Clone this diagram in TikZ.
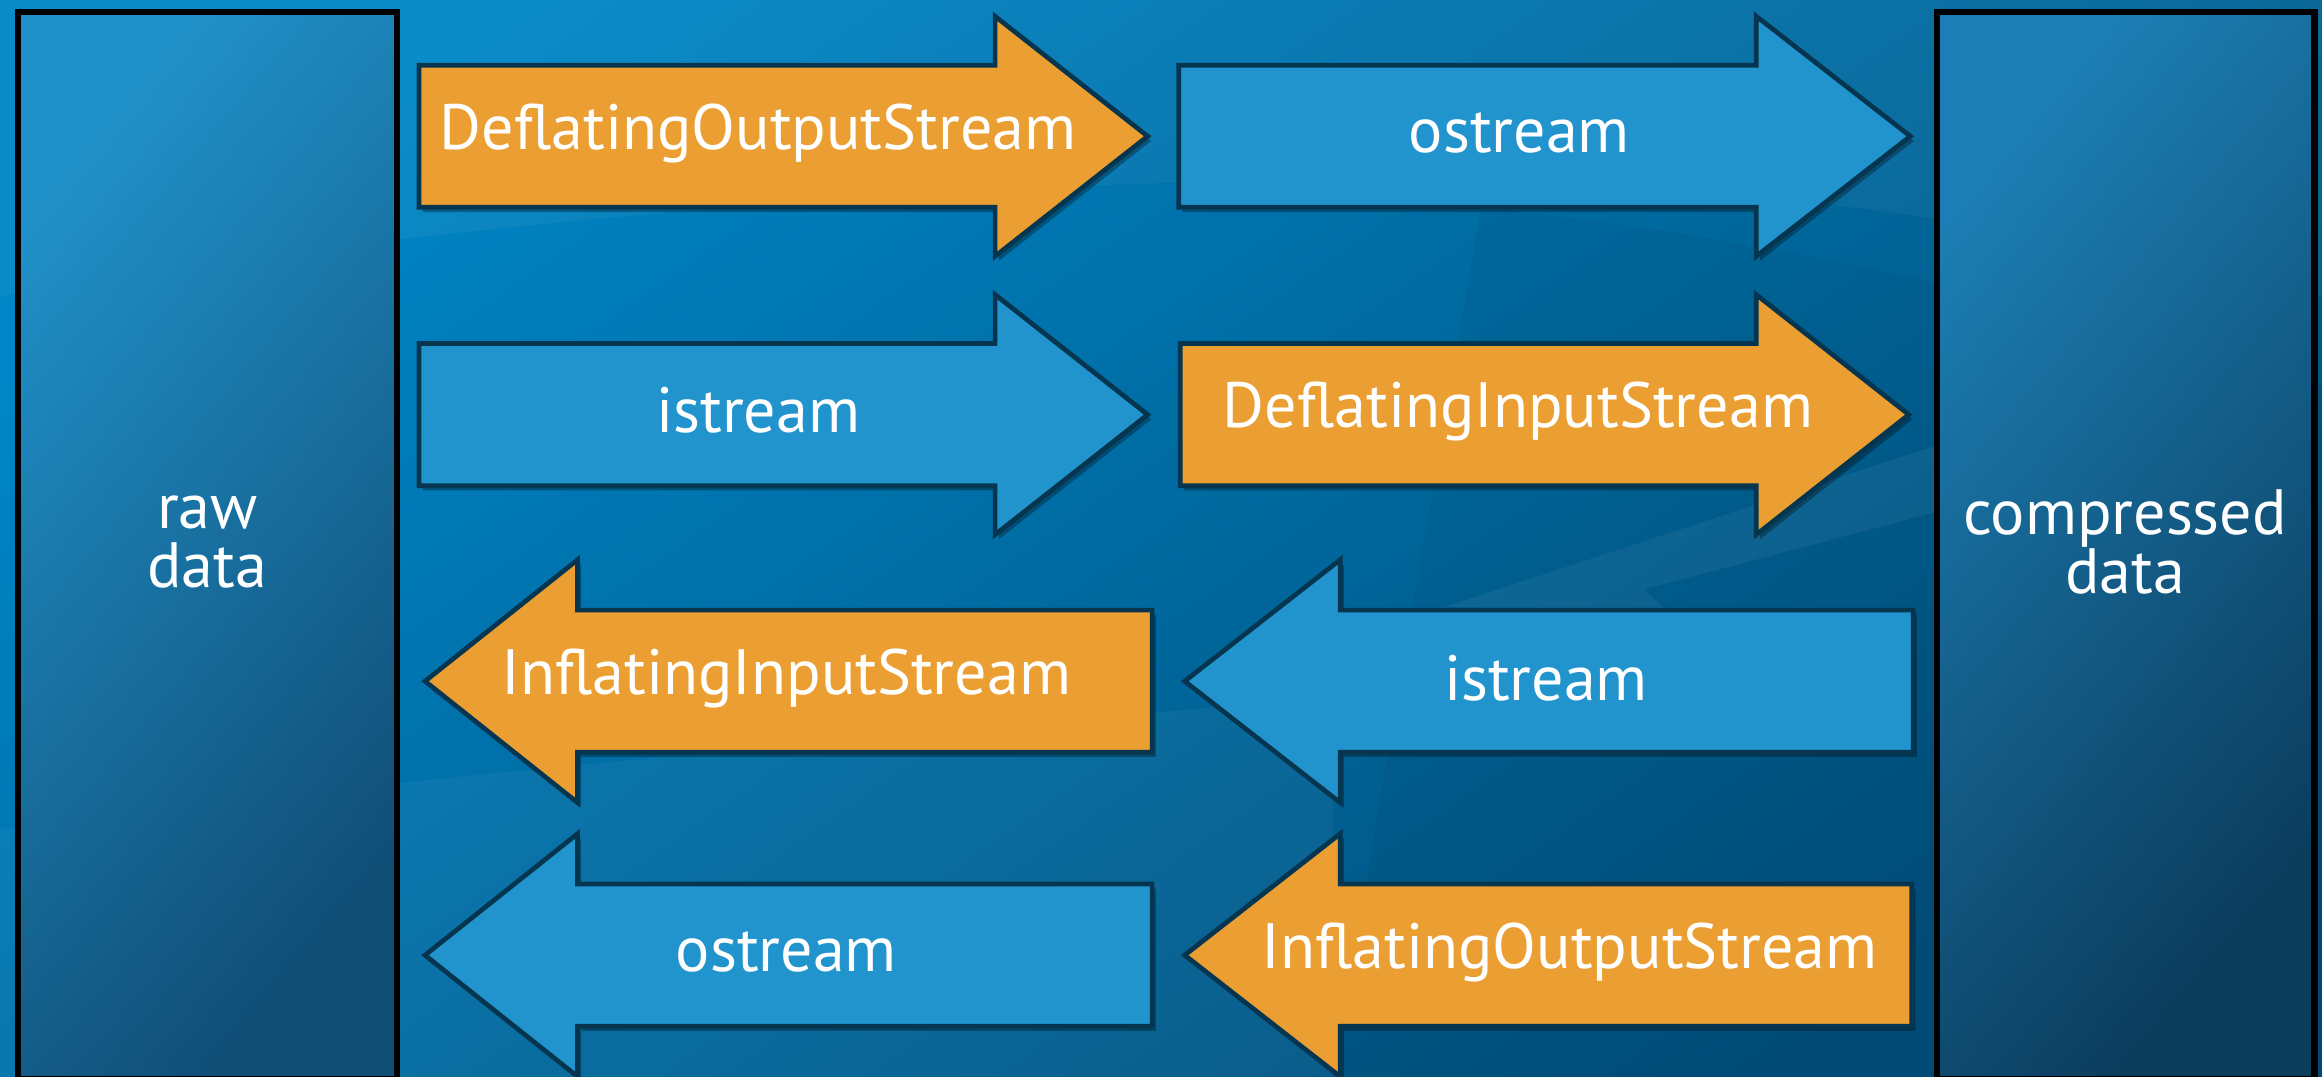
\documentclass[tikz,border=0pt]{standalone}
\usepackage{fontspec}
\setmainfont{PT Sans}
\usetikzlibrary{shadows}
\definecolor{orng}{RGB}{235,158,49}
\definecolor{lblue}{RGB}{33,148,206}
\definecolor{edge}{RGB}{6,53,79}
\definecolor{bgA}{RGB}{0,134,198}
\definecolor{bgB}{RGB}{0,78,122}
\definecolor{barLA}{RGB}{32,144,200}
\definecolor{barLB}{RGB}{16,78,118}
\definecolor{barRA}{RGB}{28,126,180}
\definecolor{barRB}{RGB}{11,60,92}
\tikzset{
  arrowshape/.style={draw=edge, line width=0.9pt, line join=miter,
    drop shadow={shadow xshift=0.7pt, shadow yshift=-0.9pt, opacity=0.3, fill=black}},
  lbl/.style={text=white, font=\fontsize{12.3pt}{12.3pt}\selectfont, inner sep=0pt},
  barlbl/.style={text=white, font=\fontsize{12.3pt}{11.2pt}\selectfont, align=center, inner sep=0pt},
  databar/.style={draw=black, line width=1.2pt, shading=axis, shading angle=50}
}
% #1 left x, #2 head base x, #3 tip x, #4 centre y, #5 fill
\newcommand{\ArrR}[5]{%
  \path[arrowshape, fill=#5] (#1,#4-48) -- (#2,#4-48) -- (#2,#4-81) -- (#3,#4)
    -- (#2,#4+81) -- (#2,#4+48) -- (#1,#4+48) -- cycle;}
% #1 tip x, #2 head base x, #3 right x, #4 centre y, #5 fill
\newcommand{\ArrL}[5]{%
  \path[arrowshape, fill=#5] (#3,#4-48) -- (#2,#4-48) -- (#2,#4-82) -- (#1,#4)
    -- (#2,#4+82) -- (#2,#4+48) -- (#3,#4+48) -- cycle;}
\begin{document}
\begin{tikzpicture}[x=0.01cm, y=-0.01cm]
\useasboundingbox (0,0) rectangle (1568,727);
% background
\shade[shading=axis, top color=bgA, bottom color=bgB, shading angle=35] (0,0) rectangle (1568,727);
\fill[white, opacity=0.045] (0,0) -- (0,200) .. controls (350,140) and (800,110) .. (1100,125) .. controls (1300,140) and (1450,170) .. (1568,200) -- (1568,0) -- cycle;
\fill[black, opacity=0.04] (1000,140) .. controls (1200,160) and (1400,210) .. (1568,260) -- (1568,727) -- (900,727) -- cycle;
\fill[white, opacity=0.04] (0,560) .. controls (300,520) and (700,490) .. (900,470) -- (900,727) -- (0,727) -- cycle;
\fill[white, opacity=0.05] (975,410) -- (1310,300) -- (1310,345) -- (1110,398) -- (1125,412) -- cycle;

% data bars
\path[databar, top color=barLA, bottom color=barLB, shading angle=50] (12,8) rectangle (268,729);
\path[databar, top color=barRA, bottom color=barRB, shading angle=50] (1308,8) rectangle (1563,729);
\node[barlbl] (raw) at (140,366) {raw\\data};
\node[barlbl] (comp) at (1435,366) {compressed\\data};

% arrows
\ArrR{283}{672}{775}{92}{orng}
\ArrR{796}{1186}{1290}{92}{lblue}
\ArrR{283}{672}{775}{280}{lblue}
\ArrR{797}{1186}{1289}{280}{orng}
\ArrL{287}{390}{778}{460}{orng}
\ArrL{800}{905}{1292}{460}{lblue}
\ArrL{287}{390}{778}{645}{lblue}
\ArrL{800}{905}{1291}{645}{orng}

\node[lbl] (dos) at (512,90) {DeflatingOutputStream};
\node[lbl] (os1) at (1026,90) {ostream};
\node[lbl] (is1) at (512,277) {istream};
\node[lbl] (dis) at (1025,278) {DeflatingInputStream};
\node[lbl] (iis) at (531,458) {InflatingInputStream};
\node[lbl] (is2) at (1044,458) {istream};
\node[lbl] (os2) at (531,643) {ostream};
\node[lbl] (ios) at (1060,643) {InflatingOutputStream};
\end{tikzpicture}
\end{document}
